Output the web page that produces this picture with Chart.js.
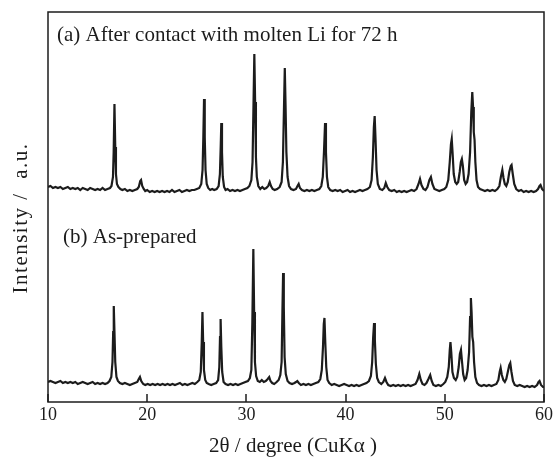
<!DOCTYPE html>
<html>
<head>
<meta charset="utf-8">
<script src="https://cdn.jsdelivr.net/npm/chart.js@4.4.1/dist/chart.umd.min.js"></script>
<style>
  html, body { margin: 0; padding: 0; background: #fff; }
  #xrd { display: block; }
</style>
</head>
<body>
<canvas id="xrd" width="555" height="463"></canvas>
<script>
// XRD patterns as [2theta, intensity] pairs.
// Pattern (a) is already shifted up on the plot's intensity scale.
const patternA = [
  [10.0,215],[10.25,216],[10.5,214],[10.75,215],[11.0,214],[11.25,215],[11.5,213],[11.75,214],[12.0,215],[12.25,213],
  [12.5,214],[12.75,213],[13.0,214],[13.25,212],[13.5,214],[13.75,213],[14.0,212],[14.25,214],[14.5,213],[14.75,212],
  [15.0,213],[15.25,212],[15.5,214],[15.75,212],[16.0,213],[16.25,214],[16.4,216],[16.55,225],[16.62,250],[16.7,298],
  [16.78,255],[16.85,228],[16.95,218],[17.1,215],[17.3,213],[17.5,212],[17.75,213],[18.0,211],[18.25,212],[18.5,211],
  [18.75,212],[19.0,213],[19.15,215],[19.3,221],[19.38,222],[19.5,216],[19.65,213],[19.8,211],[20.0,212],[20.25,210],
  [20.5,211],[20.75,210],[21.0,211],[21.25,210],[21.5,211],[21.75,210],[22.0,211],[22.25,210],[22.5,212],[22.75,210],
  [23.0,211],[23.25,212],[23.5,210],[23.75,211],[24.0,212],[24.25,211],[24.5,212],[24.75,212],[25.0,213],[25.25,214],
  [25.45,218],[25.58,232],[25.66,265],[25.73,303],[25.8,265],[25.88,232],[26.0,218],[26.15,214],[26.35,212],[26.55,213],
  [26.75,212],[27.0,213],[27.2,216],[27.33,228],[27.41,255],[27.47,279],[27.54,250],[27.62,225],[27.75,215],[27.9,212],
  [28.1,213],[28.35,211],[28.6,212],[28.85,211],[29.1,212],[29.35,211],[29.6,212],[29.85,213],[30.1,214],[30.3,216],
  [30.5,222],[30.62,240],[30.72,300],[30.8,348],[30.88,300],[30.96,245],[31.05,225],[31.2,216],[31.4,213],[31.6,215],
  [31.8,213],[32.0,214],[32.2,216],[32.35,220],[32.48,216],[32.65,213],[32.85,212],[33.1,213],[33.35,215],[33.55,220],
  [33.68,240],[33.78,290],[33.87,334],[33.95,295],[34.03,250],[34.15,225],[34.3,216],[34.5,213],[34.75,212],[35.0,213],
  [35.15,216],[35.27,218],[35.4,214],[35.6,212],[35.85,211],[36.1,212],[36.35,211],[36.6,212],[36.85,211],[37.1,212],
  [37.35,213],[37.55,216],[37.7,225],[37.82,250],[37.93,279],[38.02,250],[38.12,225],[38.25,215],[38.45,212],[38.7,211],
  [38.95,212],[39.2,211],[39.45,212],[39.7,210],[39.95,211],[40.2,212],[40.45,210],[40.7,211],[40.95,210],[41.2,211],
  [41.45,212],[41.7,211],[41.95,212],[42.2,213],[42.45,215],[42.62,222],[42.75,245],[42.85,275],[42.93,286],[43.02,262],
  [43.12,232],[43.25,218],[43.45,213],[43.7,212],[43.9,214],[44.05,219],[44.2,215],[44.4,212],[44.65,211],[44.9,212],
  [45.15,210],[45.4,211],[45.65,210],[45.9,211],[46.15,210],[46.4,211],[46.65,212],[46.9,211],[47.15,213],[47.35,218],
  [47.5,223],[47.65,217],[47.85,213],[48.05,212],[48.25,215],[48.45,222],[48.6,225],[48.75,218],[48.95,213],[49.2,212],
  [49.45,211],[49.7,212],[49.95,213],[50.15,215],[50.35,222],[50.5,240],[50.62,258],[50.7,263],[50.78,250],[50.9,228],
  [51.05,220],[51.2,218],[51.35,220],[51.5,230],[51.62,240],[51.72,243],[51.82,236],[51.95,222],[52.1,218],[52.25,220],
  [52.4,228],[52.55,250],[52.67,290],[52.77,310],[52.85,295],[52.92,270],[53.0,262],[53.08,240],[53.2,222],[53.35,215],
  [53.55,213],[53.8,212],[54.05,211],[54.3,212],[54.55,211],[54.8,212],[55.05,211],[55.3,213],[55.5,216],[55.65,225],
  [55.8,232],[55.92,224],[56.05,218],[56.2,216],[56.35,220],[56.5,230],[56.65,236],[56.73,237],[56.85,228],[57.0,218],
  [57.2,213],[57.45,211],[57.7,212],[57.95,210],[58.2,211],[58.45,210],[58.7,211],[58.95,210],[59.2,211],[59.4,213],
  [59.55,216],[59.65,217],[59.8,213],[60.0,211]
];

const patternB = [
  [10.0,20],[10.25,21],[10.5,20],[10.75,19],[11.0,20],[11.25,21],[11.5,19],[11.75,20],[12.0,19],[12.25,20],
  [12.5,19],[12.75,20],[13.0,18],[13.25,19],[13.5,20],[13.75,19],[14.0,18],[14.25,19],[14.5,20],[14.75,18],
  [15.0,19],[15.25,18],[15.5,19],[15.75,18],[16.0,19],[16.2,21],[16.38,25],[16.5,40],[16.57,70],[16.63,96],
  [16.7,70],[16.78,40],[16.9,25],[17.05,21],[17.25,19],[17.5,18],[17.75,19],[18.0,18],[18.25,17],[18.5,18],
  [18.75,19],[19.0,20],[19.15,23],[19.27,25],[19.4,21],[19.6,18],[19.8,17],[20.05,18],[20.3,17],[20.55,18],
  [20.8,17],[21.05,18],[21.3,17],[21.55,18],[21.8,17],[22.05,18],[22.3,17],[22.55,18],[22.8,17],[23.05,18],
  [23.3,19],[23.55,17],[23.8,18],[24.05,17],[24.3,18],[24.55,19],[24.8,18],[25.05,20],[25.25,22],[25.4,30],
  [25.5,60],[25.57,90],[25.64,60],[25.72,32],[25.85,22],[26.0,19],[26.2,18],[26.45,17],[26.7,18],[26.95,19],
  [27.15,22],[27.27,35],[27.34,65],[27.4,83],[27.47,55],[27.56,30],[27.7,20],[27.9,18],[28.15,17],[28.4,18],
  [28.65,17],[28.9,18],[29.15,17],[29.4,18],[29.65,19],[29.9,20],[30.15,21],[30.35,24],[30.5,32],[30.6,80],
  [30.7,153],[30.78,90],[30.86,40],[30.98,26],[31.15,21],[31.35,20],[31.55,22],[31.75,20],[31.95,21],[32.15,23],
  [32.3,25],[32.43,21],[32.6,19],[32.8,18],[33.05,20],[33.25,22],[33.42,27],[33.55,40],[33.63,90],[33.7,129],
  [33.77,95],[33.85,45],[33.97,28],[34.15,21],[34.35,19],[34.6,18],[34.85,19],[35.0,20],[35.13,21],[35.28,19],
  [35.5,17],[35.75,18],[36.0,17],[36.25,18],[36.5,17],[36.75,18],[37.0,19],[37.25,20],[37.45,23],[37.6,32],
  [37.72,55],[37.8,78],[37.87,84],[37.95,60],[38.05,35],[38.18,22],[38.35,19],[38.6,17],[38.85,18],[39.1,17],
  [39.35,16],[39.6,17],[39.85,18],[40.1,17],[40.35,16],[40.6,17],[40.85,16],[41.1,17],[41.35,16],[41.6,17],
  [41.85,18],[42.1,19],[42.35,21],[42.55,26],[42.68,40],[42.78,65],[42.87,79],[42.95,62],[43.05,38],[43.18,24],
  [43.35,20],[43.6,18],[43.8,20],[43.97,24],[44.12,20],[44.3,17],[44.55,16],[44.8,17],[45.05,16],[45.3,17],
  [45.55,16],[45.8,17],[46.05,16],[46.3,17],[46.55,16],[46.8,17],[47.05,18],[47.25,22],[47.43,28],[47.58,22],
  [47.75,18],[47.95,17],[48.15,19],[48.35,23],[48.53,27],[48.68,21],[48.85,17],[49.1,16],[49.35,17],[49.6,16],
  [49.85,18],[50.05,20],[50.25,25],[50.4,35],[50.5,52],[50.57,60],[50.65,50],[50.77,30],[50.92,24],[51.1,22],
  [51.25,25],[51.4,35],[51.52,48],[51.63,52],[51.72,42],[51.85,28],[52.0,22],[52.15,24],[52.3,32],[52.45,50],
  [52.55,85],[52.63,104],[52.7,90],[52.78,65],[52.86,60],[52.95,40],[53.08,25],[53.25,19],[53.45,17],[53.7,16],
  [53.95,17],[54.2,16],[54.45,17],[54.7,16],[54.95,17],[55.2,18],[55.4,22],[55.53,30],[55.63,34],[55.75,27],
  [55.9,22],[56.05,20],[56.2,23],[56.35,30],[56.5,37],[56.6,39],[56.72,30],[56.87,21],[57.05,17],[57.3,16],
  [57.55,17],[57.8,16],[58.05,15],[58.3,16],[58.55,15],[58.8,16],[59.05,15],[59.3,17],[59.45,20],[59.55,21],
  [59.7,17],[59.9,15],[60.0,15]
];

const xTicks = [10, 20, 30, 40, 50, 60];
const labelA = '(a) After contact with molten Li for 72 h';
const labelB = '(b) As-prepared';
const xTitle = '2θ / degree (CuKα )';
const yTitle = 'Intensity /  a.u.';

const ink = '#1c1c1c';
const serif = "'Liberation Serif', 'Times New Roman', serif";

// frame, inward ticks, axis titles and pattern labels
const decor = {
  id: 'decor',
  afterDraw(chart) {
    const ctx = chart.ctx;
    const area = chart.chartArea;
    const xs = chart.scales.x;
    ctx.save();
    ctx.strokeStyle = ink;
    ctx.lineWidth = 1.5;
    ctx.strokeRect(area.left, area.top, area.right - area.left, area.bottom - area.top);

    xTicks.forEach(v => {
      const px = Math.round(xs.getPixelForValue(v));
      ctx.beginPath();
      ctx.moveTo(px, area.bottom);
      ctx.lineTo(px, area.bottom - 8);
      ctx.stroke();
    });

    ctx.fillStyle = ink;
    ctx.font = '21px ' + serif;
    ctx.textBaseline = 'middle';
    ctx.textAlign = 'left';
    ctx.fillText(labelA, 57, 35);
    ctx.fillText(labelB, 63, 237);

    ctx.textAlign = 'center';
    ctx.fillText(xTitle, 293, 446);

    ctx.translate(21, 218);
    ctx.rotate(-Math.PI / 2);
    ctx.letterSpacing = '1.5px';
    ctx.fillText(yTitle, 0, 0);
    ctx.restore();
  }
};

const ctx = document.getElementById('xrd').getContext('2d');
new Chart(ctx, {
  type: 'line',
  data: {
    datasets: [
      {
        label: 'After contact',
        data: patternA.map(p => ({ x: p[0], y: p[1] })),
        borderColor: ink,
        borderWidth: 2.2,
        pointRadius: 0,
        tension: 0,
        fill: false
      },
      {
        label: 'As-prepared',
        data: patternB.map(p => ({ x: p[0], y: p[1] })),
        borderColor: ink,
        borderWidth: 2.2,
        pointRadius: 0,
        tension: 0,
        fill: false
      }
    ]
  },
  options: {
    responsive: false,
    animation: false,
    devicePixelRatio: 1,
    layout: { padding: { top: 12, right: 7, left: 0, bottom: 0 } },
    plugins: {
      legend: { display: false },
      tooltip: { enabled: false }
    },
    scales: {
      x: {
        type: 'linear',
        min: 10,
        max: 60,
        afterBuildTicks: scale => { scale.ticks = xTicks.map(v => ({ value: v })); },
        afterFit: scale => { scale.height = 61; },
        grid: { display: false, drawTicks: false },
        border: { display: false },
        ticks: {
          color: ink,
          padding: 2,
          maxRotation: 0,
          font: { family: serif, size: 18 }
        }
      },
      y: {
        min: 0,
        max: 390,
        afterFit: scale => { scale.width = 48; },
        grid: { display: false, drawTicks: false },
        border: { display: false },
        ticks: { display: false }
      }
    }
  },
  plugins: [decor]
});
</script>
</body>
</html>
